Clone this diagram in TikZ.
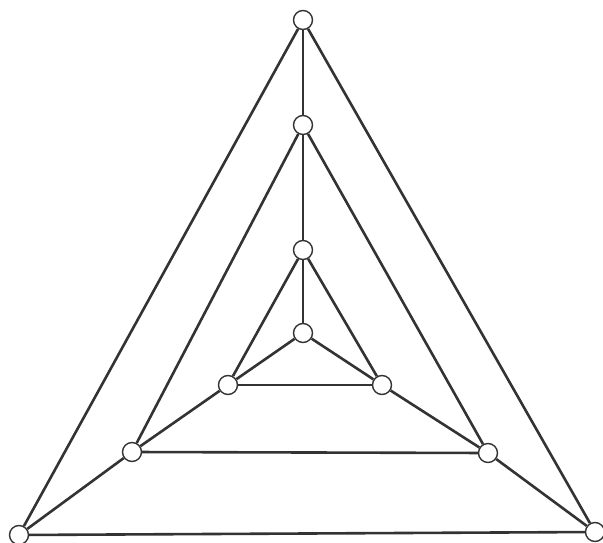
\documentclass[tikz,border=0pt]{standalone}
\begin{document}
\begin{tikzpicture}[x=1pt,y=-1pt,line width=2.6pt,black!80,
    vtx/.style={circle,draw,line width=1.4pt,fill=white,minimum size=19pt,inner sep=0pt}]
    \useasboundingbox (0,0) rectangle (603,543);
    % outer, middle and inner triangles
    \node[vtx] (ot) at (303,20) {};
    \node[vtx] (ol) at (19,535) {};
    \node[vtx] (or) at (595,532) {};
    \node[vtx] (mt) at (303,125) {};
    \node[vtx] (ml) at (132,452) {};
    \node[vtx] (mr) at (488,453) {};
    \node[vtx] (it) at (303,250) {};
    \node[vtx] (il) at (228,385) {};
    \node[vtx] (ir) at (382,385) {};
    \node[vtx] (c) at (303,333) {};
    \foreach \a/\b in {ot/ol,ol/or,or/ot,mt/ml,ml/mr,mr/mt,it/il,il/ir,ir/it,
        ot/mt,mt/it,it/c,c/il,c/ir,il/ml,ir/mr,ml/ol,mr/or} {
        \draw (\a) -- (\b);
    }
\end{tikzpicture}
\end{document}
